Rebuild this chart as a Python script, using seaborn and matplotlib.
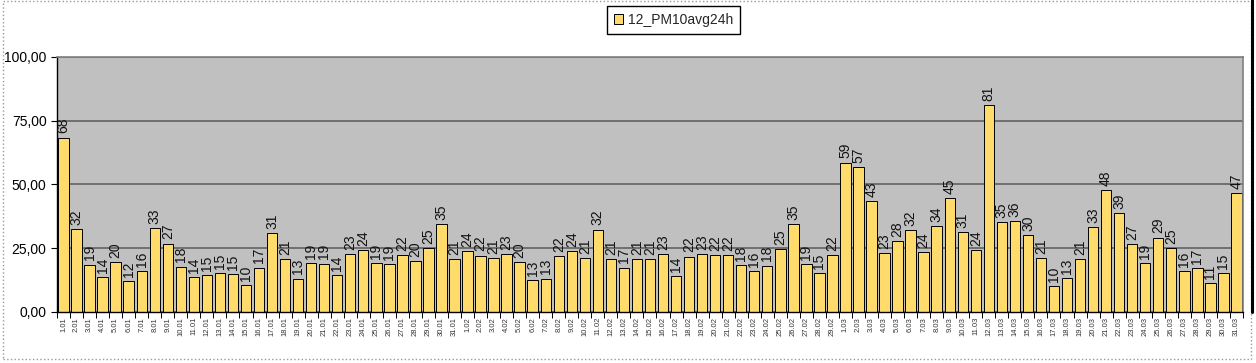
import numpy as np
import pandas as pd
import seaborn as sns
import matplotlib.pyplot as plt
from matplotlib.patches import Patch, Rectangle
from matplotlib.lines import Line2D
from matplotlib.ticker import FuncFormatter

# daily PM10 averages (24h), Jan-Mar
jan_values = [68.4, 32.4, 18.6, 13.8, 19.6, 12.0, 15.9, 32.9, 26.8, 17.8, 13.6, 14.6, 15.3, 15.0, 10.4, 17.4,
              30.9, 20.6, 13.1, 19.1, 19.0, 14.4, 22.6, 24.2, 19.2, 18.9, 22.3, 20.1, 25.2, 34.6, 20.8]
feb_values = [23.8, 22.1, 21.0, 22.6, 19.6, 12.6, 13.1, 21.9, 23.9, 21.3, 32.3, 20.9, 17.4, 20.8, 20.6,
              22.8, 14.2, 21.7, 22.6, 22.3, 22.3, 18.3, 16.0, 18.2, 24.8, 34.6, 18.9, 15.3, 22.2]
mar_values = [58.6, 56.8, 43.4, 23.2, 27.7, 32.1, 23.6, 33.6, 44.6, 31.4, 24.2, 81.0, 35.3, 35.8, 30.1, 21.2,
              10.2, 13.3, 20.9, 33.4, 47.8, 38.8, 26.7, 19.2, 29.2, 25.0, 15.9, 17.3, 11.3, 15.3, 46.6]

jan_days = [f"{d}.01" for d in range(1, 32)]
feb_days = [f"{d}.02" for d in range(1, 30)]
mar_days = [f"{d}.03" for d in range(1, 32)]

series_name = '12_PM10avg24h'
bar_color = '#FFDB6B'

df = pd.DataFrame({
    'day': jan_days + feb_days + mar_days,
    'value': jan_values + feb_values + mar_values,
})

# Set plot style
sns.set_style('white')
plt.rcParams['font.family'] = ['Liberation Sans', 'DejaVu Sans']

fig, ax = plt.subplots(figsize=(12.56, 3.63), dpi=100)
fig.subplots_adjust(left=0.0454, right=0.9896, top=0.843, bottom=0.1405)

# Bars
sns.barplot(data=df, x='day', y='value', color=bar_color, saturation=1, width=0.8,
            edgecolor='black', linewidth=0.7, errorbar=None, ax=ax)

# Value labels above bars
ax.bar_label(ax.containers[0], labels=[f"{v:.0f}" for v in df['value']],
             rotation=90, padding=3, fontsize=10, color='#111111')

# Axes look (Excel style)
ax.set_facecolor('#C0C0C0')
ax.set_ylim(0, 100)
ax.set_yticks([0, 25, 50, 75, 100])
ax.yaxis.set_major_formatter(FuncFormatter(lambda v, p: f"{v:.2f}".replace('.', ',')))
ax.yaxis.grid(True, color='#5a5a5a', linewidth=1.1)
ax.set_axisbelow(True)
ax.set_xlabel('')
ax.set_ylabel('')

ax.tick_params(axis='y', labelsize=10, length=4, width=0.8, direction='out', left=True, colors='black')
ax.tick_params(axis='x', which='major', labelsize=5.5, rotation=90, length=0, colors='#333333')
ax.set_xticks(np.arange(-0.5, len(df), 1), minor=True)
ax.tick_params(axis='x', which='minor', length=4, width=0.7, bottom=True, color='black')

for side in ['left', 'bottom']:
    ax.spines[side].set_color('black')
    ax.spines[side].set_linewidth(1.0)
for side in ['top', 'right']:
    ax.spines[side].set_color('#808080')
    ax.spines[side].set_linewidth(1.2)

# Legend at the top
fig.legend(handles=[Patch(facecolor=bar_color, edgecolor='black', linewidth=0.7)], labels=[series_name],
           loc='center', bbox_to_anchor=(0.536, 0.945), fontsize=10, frameon=True, fancybox=False,
           edgecolor='black', handlelength=0.7, handleheight=0.8, handletextpad=0.3, borderpad=0.5,
           framealpha=1)

# Chart border and right shadow line
fig.patches.append(Rectangle((0.002, 0.012), 0.994, 0.984, transform=fig.transFigure, fill=False,
                             edgecolor='#999999', linestyle=':', linewidth=1.0))
fig.lines.append(Line2D([0.9968, 0.9968], [0.14, 1.0], transform=fig.transFigure,
                        color='black', linewidth=2.2))

plt.savefig('out.png', dpi=100)
